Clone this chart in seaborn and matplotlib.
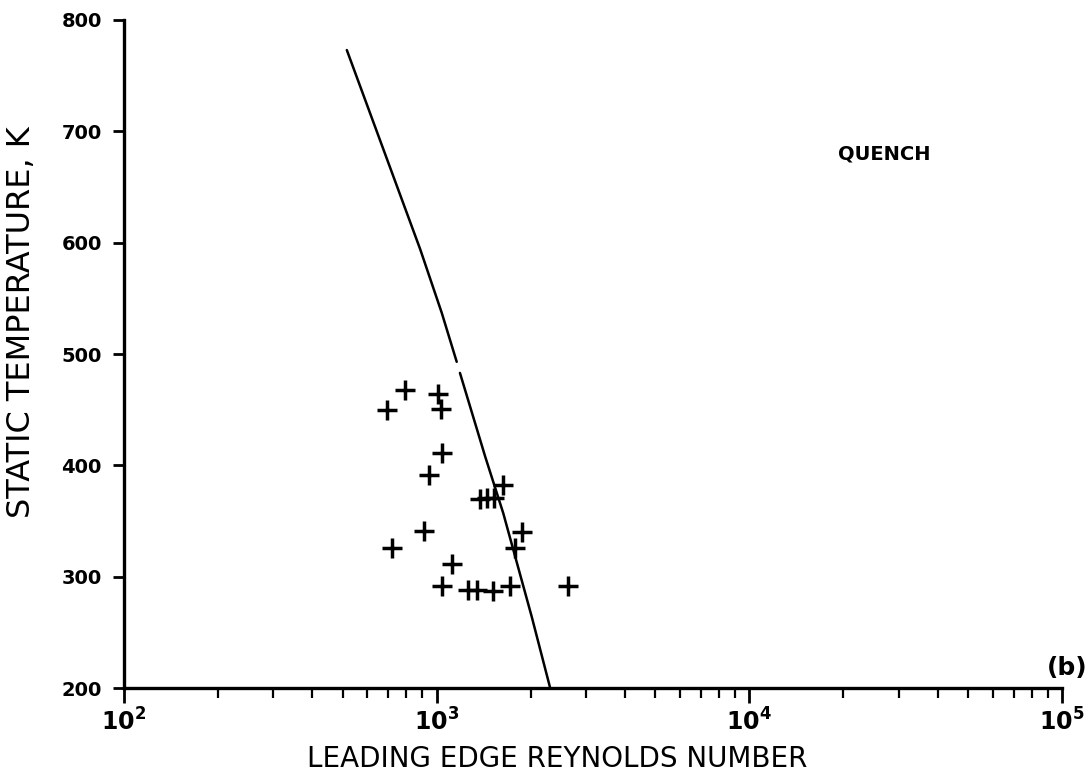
import matplotlib
matplotlib.use("Agg")
import matplotlib.pyplot as plt
import seaborn as sns
import numpy as np
import pandas as pd
from matplotlib.ticker import LogLocator, FixedLocator, NullFormatter

# ---- data ----
re_points = [695, 792, 1012, 1030, 1038, 947, 1633, 1374, 1451, 1525,
             910, 1871, 721, 1778, 1117, 1038, 1260, 1350, 1517, 1714, 2636]
t_points = [450, 468, 464, 451, 411, 391, 382, 370, 371, 371,
            341, 340, 326, 326, 311, 292, 288, 288, 287, 292, 292]

line_upper_re = [516, 886, 1038, 1159]
line_upper_t = [773, 594, 537, 493]
line_lower_re = [1187, 1429, 1633, 2014, 2302]
line_lower_t = [483, 408, 357, 264, 201]

x_ticks = [1e2, 1e3, 1e4, 1e5]
x_tick_labels = [r"$\mathbf{10^{2}}$", r"$\mathbf{10^{3}}$", r"$\mathbf{10^{4}}$", r"$\mathbf{10^{5}}$"]
y_ticks = [200, 300, 400, 500, 600, 700, 800]

sns.set_theme(style="ticks")
plt.rcParams['font.family'] = ['DejaVu Sans']

fig = plt.figure(figsize=(10.9, 7.78), dpi=100)
ax = fig.add_axes([124 / 1090, (778 - 688) / 778, 938 / 1090, 668 / 778])

df_pts = pd.DataFrame({"Re": re_points, "T": t_points})
sns.scatterplot(data=df_pts, x="Re", y="T", marker="+", s=210, color="black",
                linewidth=2.5, ax=ax, legend=False)

df_up = pd.DataFrame({"Re": line_upper_re, "T": line_upper_t})
df_lo = pd.DataFrame({"Re": line_lower_re, "T": line_lower_t})
sns.lineplot(data=df_up, x="Re", y="T", sort=False, color="black", linewidth=1.8, ax=ax)
sns.lineplot(data=df_lo, x="Re", y="T", sort=False, color="black", linewidth=1.8, ax=ax)

ax.set_xscale("log")
ax.set_xlim(1e2, 1e5)
ax.set_ylim(200, 800)

ax.xaxis.set_major_locator(FixedLocator(x_ticks))
ax.set_xticklabels(x_tick_labels)
ax.xaxis.set_minor_locator(LogLocator(base=10, subs=np.arange(2, 10)))
ax.xaxis.set_minor_formatter(NullFormatter())
ax.set_yticks(y_ticks)
ax.set_yticklabels([str(v) for v in y_ticks], fontweight="bold")

ax.tick_params(axis="x", which="major", direction="out", length=11, width=2,
               labelsize=17, colors="black", pad=4)
ax.tick_params(axis="x", which="minor", direction="out", length=7, width=1.6, colors="black")
ax.tick_params(axis="y", which="major", direction="out", length=8, width=2,
               labelsize=14, colors="black", pad=8)

for side in ["top", "right"]:
    ax.spines[side].set_visible(False)
for side in ["left", "bottom"]:
    ax.spines[side].set_linewidth(2.4)
    ax.spines[side].set_color("black")

ax.set_xlabel("LEADING EDGE REYNOLDS NUMBER", fontsize=20, color="black")
ax.set_ylabel("STATIC TEMPERATURE, K", fontsize=23, color="black")
ax.xaxis.set_label_coords(0.462, -0.085)
ax.yaxis.set_label_coords(-0.093, 0.548)

ax.text(0.81, 0.80, "QUENCH", transform=ax.transAxes, ha="center", va="center",
        fontsize=14, fontweight="bold", color="black")
ax.text(1.027, 0.03, "(b)", transform=ax.transAxes, ha="right", va="center",
        fontsize=18, fontweight="bold", color="black")

fig.savefig("out.png", dpi=100, facecolor="white")
